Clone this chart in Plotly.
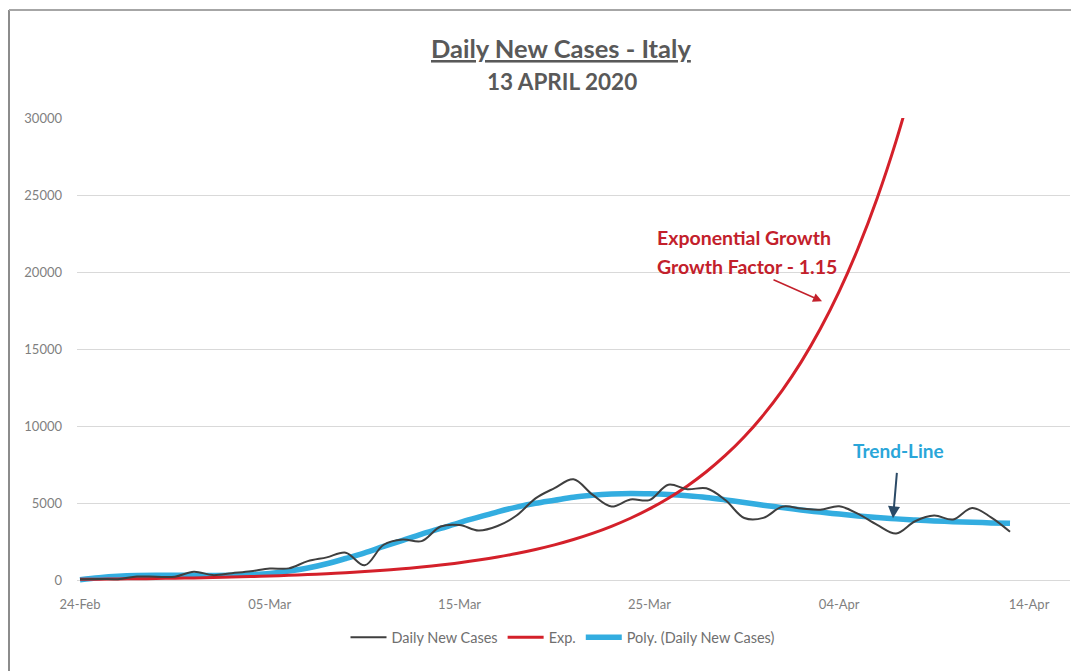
import plotly.graph_objects as go
import pandas as pd

# ---- data ----
start_date = "2020-02-24"
daily_new_cases = [77, 93, 78, 250, 238, 240, 566, 342, 466, 587,
                   769, 778, 1247, 1492, 1797, 977, 2313, 2651, 2547, 3497,
                   3590, 3233, 3526, 4207, 5322, 5986, 6557, 5560, 4789, 5249,
                   5210, 6203, 5909, 5974, 5217, 4050, 4053, 4782, 4668, 4585,
                   4805, 4316, 3599, 3039, 3836, 4204, 3951, 4694, 4092, 3153]
exp_growth = [70, 81, 93, 106, 122, 141, 162, 186, 214, 246,
              283, 326, 375, 431, 495, 570, 655, 753, 866, 996,
              1146, 1318, 1515, 1742, 2004, 2304, 2650, 3047, 3505, 4030,
              4635, 5330, 6130, 7049, 8106, 9322, 10721, 12329, 14178, 16305,
              18750, 21563, 24797, 28517, 32795]
poly_trend = [40, 170, 260, 310, 330, 330, 320, 320, 330, 370,
              450, 600, 800, 1080, 1420, 1780, 2200, 2600, 3000, 3370,
              3750, 4100, 4450, 4750, 5000, 5200, 5400, 5520, 5600, 5640,
              5620, 5570, 5490, 5380, 5220, 5050, 4880, 4720, 4570, 4430,
              4300, 4180, 4080, 3990, 3920, 3860, 3810, 3770, 3730, 3700]
series_names = ["Daily New Cases", "Exp.", "Poly. (Daily New Cases)"]
y_ticks = [0, 5000, 10000, 15000, 20000, 25000, 30000]
title_text = "Daily New Cases - Italy"
subtitle_text = "13 APRIL 2020"
exp_label_1 = "Exponential Growth"
exp_label_2 = "Growth Factor - 1.15"
trend_label = "Trend-Line"

dates_daily = pd.date_range(start_date, periods=len(daily_new_cases), freq="D")
dates_exp = pd.date_range(start_date, periods=len(exp_growth), freq="D")
dates_poly = pd.date_range(start_date, periods=len(poly_trend), freq="D")

# page body has an 8px margin: work in reference-pixel coordinates and shift
OFF = 8
W, H = 1079 - OFF, 671 - OFF
plot_left_ref, plot_right_ref = 77, 1070
y_top_ref, y0_ref = 118, 580
y_lo = -300
px_per = (y0_ref - y_top_ref) / 30000
y_bot_ref = y0_ref + (0 - y_lo) * px_per

L = plot_left_ref - OFF
R = W - (plot_right_ref - OFF)
T = y_top_ref - OFF
B = H - (y_bot_ref - OFF)
plot_w = plot_right_ref - plot_left_ref
plot_h = y_bot_ref - y_top_ref

def px2paper_x(px):
    return (px - plot_left_ref) / plot_w

def px2paper_y(py):
    return (y_bot_ref - py) / plot_h

d0 = pd.Timestamp(start_date)
day0_ref = 80
day_px = 18.98
x_start = d0 - pd.Timedelta(days=(day0_ref - plot_left_ref) / day_px)
x_end = d0 + pd.Timedelta(days=(plot_right_ref - day0_ref) / day_px)

fig = go.Figure()
fig.add_trace(go.Scatter(x=dates_poly, y=poly_trend, name=series_names[2], mode="lines",
                         line=dict(color="#33ade0", width=5.5, shape="spline"), legendrank=3))
fig.add_trace(go.Scatter(x=dates_exp, y=exp_growth, name=series_names[1], mode="lines",
                         line=dict(color="#d4202a", width=3, shape="spline"), legendrank=2))
fig.add_trace(go.Scatter(x=dates_daily, y=daily_new_cases, name=series_names[0], mode="lines",
                         line=dict(color="#3f3f3f", width=2, shape="spline", smoothing=1.0), legendrank=1))

tick_font = dict(family="Lato, Carlito, sans-serif", size=13, color="#7f7f7f")

fig.update_layout(
    width=W, height=H,
    margin=dict(l=L, r=R, t=T, b=B),
    paper_bgcolor="white", plot_bgcolor="white",
    showlegend=True,
    legend=dict(orientation="h", x=px2paper_x(563), xanchor="center", y=px2paper_y(637), yanchor="middle",
                font=dict(family="Lato, Carlito, sans-serif", size=14.5, color="#6f6f6f"),
                traceorder="normal", itemwidth=36, bgcolor="rgba(0,0,0,0)"),
    xaxis=dict(type="date", range=[x_start, x_end], tick0=start_date, dtick=10 * 86400000,
               tickformat="%d-%b", showgrid=False, zeroline=False, showline=False,
               ticks="", tickfont=tick_font, ticklabelstandoff=10),
    yaxis=dict(range=[y_lo, 30000], tickvals=y_ticks, ticktext=[str(v) for v in y_ticks],
               showgrid=True, gridcolor="#d9d9d9", gridwidth=1, zeroline=False,
               showline=False, ticks="", tickfont=tick_font, ticklabelstandoff=14),
    hovermode=False,
)

title_font = dict(family="Lato, Carlito, sans-serif", color="#595959", weight="bold")
fig.add_annotation(x=px2paper_x(561), y=px2paper_y(48), xref="paper", yref="paper",
                   text=title_text, showarrow=False, xanchor="center", yanchor="middle",
                   font=dict(**title_font, size=25.5, lineposition="under"))
fig.add_annotation(x=px2paper_x(562), y=px2paper_y(82), xref="paper", yref="paper",
                   text=subtitle_text, showarrow=False, xanchor="center", yanchor="middle",
                   font=dict(**title_font, size=22.5))

red_font = dict(family="Lato, Carlito, sans-serif", size=19.5, color="#c3202b", weight="bold")
fig.add_annotation(x=px2paper_x(744), y=px2paper_y(237), xref="paper", yref="paper",
                   text=exp_label_1, showarrow=False, xanchor="center", yanchor="middle", font=red_font)
fig.add_annotation(x=px2paper_x(747), y=px2paper_y(266), xref="paper", yref="paper",
                   text=exp_label_2, showarrow=False, xanchor="center", yanchor="middle", font=red_font)
fig.add_annotation(x=px2paper_x(822), y=px2paper_y(301), ax=772 - 822, ay=279 - 301,
                   xref="paper", yref="paper", axref="pixel", ayref="pixel",
                   text="", showarrow=True, arrowhead=2, arrowsize=1.2, arrowwidth=1.5,
                   arrowcolor="#c3202b", standoff=0, startstandoff=0)

fig.add_annotation(x=px2paper_x(898), y=px2paper_y(450), xref="paper", yref="paper",
                   text=trend_label, showarrow=False, xanchor="center", yanchor="middle",
                   font=dict(family="Lato, Carlito, sans-serif", size=19, color="#2aa6d9", weight="bold"))
fig.add_annotation(x=px2paper_x(893), y=px2paper_y(518), ax=897 - 893, ay=471 - 518,
                   xref="paper", yref="paper", axref="pixel", ayref="pixel",
                   text="", showarrow=True, arrowhead=2, arrowsize=1.2, arrowwidth=2,
                   arrowcolor="#2b4a66", standoff=0, startstandoff=0)

# chart frame (left and top border)
fig.add_shape(type="line", xref="paper", yref="paper",
              x0=px2paper_x(9), x1=px2paper_x(9), y0=px2paper_y(10), y1=px2paper_y(671),
              line=dict(color="#8c8c8c", width=2))
fig.add_shape(type="line", xref="paper", yref="paper",
              x0=px2paper_x(9), x1=px2paper_x(1079), y0=px2paper_y(10), y1=px2paper_y(10),
              line=dict(color="#a6a6a6", width=2))

fig.write_html("out.html", config={"displayModeBar": False, "staticPlot": True})
